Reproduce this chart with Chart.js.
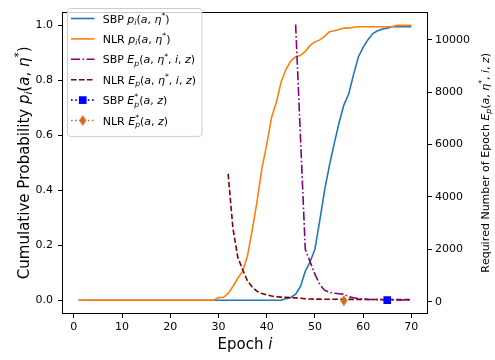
<!DOCTYPE html>
<html>
<head>
<meta charset="utf-8">
<script src="https://cdn.jsdelivr.net/npm/chart.js@4.4.1/dist/chart.umd.min.js"></script>
<style>
  html, body { margin: 0; padding: 0; background: #fff; }
  canvas { display: block; }
</style>
</head>
<body>
<canvas id="chart" width="495" height="360"></canvas>
<script>
/* globals Chart:false */
(() => {
  'use strict';

  // Epochs on the x axis
  const epochs = [
    1, 2, 3, 4, 5, 6, 7, 8, 9, 10, 11, 12, 13, 14, 15, 16, 17, 18, 19, 20,
    21, 22, 23, 24, 25, 26, 27, 28, 29, 30, 31, 32, 33, 34, 35, 36, 37, 38, 39, 40,
    41, 42, 43, 44, 45, 46, 47, 48, 49, 50, 51, 52, 53, 54, 55, 56, 57, 58, 59, 60,
    61, 62, 63, 64, 65, 66, 67, 68, 69, 70
  ];

  // Cumulative probability p_i(a, eta*) per epoch (left axis)
  const sbpProb = [
    0, 0, 0, 0, 0, 0, 0, 0, 0, 0,
    0, 0, 0, 0, 0, 0, 0, 0, 0, 0,
    0, 0, 0, 0, 0, 0, 0, 0, 0, 0,
    0, 0, 0, 0, 0, 0, 0, 0, 0, 0,
    0, 0, 0, 0.006, 0.01, 0.022, 0.05, 0.105, 0.14, 0.185,
    0.29, 0.4, 0.49, 0.57, 0.645, 0.71, 0.75, 0.82, 0.885, 0.92,
    0.948, 0.97, 0.98, 0.987, 0.99, 0.995, 0.995, 0.995, 0.995, 0.995
  ];
  const nlrProb = [
    0, 0, 0, 0, 0, 0, 0, 0, 0, 0,
    0, 0, 0, 0, 0, 0, 0, 0, 0, 0,
    0, 0, 0, 0, 0, 0, 0, 0, 0, 0.01,
    0.01, 0.025, 0.05, 0.08, 0.105, 0.16, 0.255, 0.36, 0.48, 0.565,
    0.665, 0.72, 0.795, 0.84, 0.87, 0.886, 0.89, 0.905, 0.927, 0.94,
    0.947, 0.96, 0.977, 0.98, 0.985, 0.99, 0.99, 0.993, 0.995, 0.995,
    0.995, 0.995, 0.995, 0.995, 0.995, 0.995, 1.0, 1.0, 1.0, 1.0
  ];

  // Required number of epochs E_p(a, eta*, i, z) (right axis)
  const sbpReqStart = 46;
  const sbpReq = [
    10580, 6300, 2000, 1520, 1050, 660, 440, 360, 320, 305,
    285, 190, 150, 120, 100, 90, 85, 80, 75, 70,
    68, 65, 62, 60, 58
  ];
  const nlrReqStart = 32;
  const nlrReq = [
    4880, 2800, 1700, 1230, 800, 560, 395, 310, 260, 220,
    190, 175, 165, 155, 145, 130, 110, 100, 98, 96,
    95, 94, 93, 92, 91, 90, 89, 88, 87, 86,
    85, 84, 83, 82, 81, 80, 80, 80, 80
  ];

  // Optimum E*_p(a, z): [epoch, required epochs]
  const sbpBest = [65, 60];
  const nlrBest = [56, 40];

  // Tick labels
  const xTicks = [0, 10, 20, 30, 40, 50, 60, 70];
  const probTicks = [0, 0.2, 0.4, 0.6, 0.8, 1.0];
  const reqTicks = [0, 2000, 4000, 6000, 8000, 10000];

  const FONT = '"DejaVu Sans", "Liberation Sans", sans-serif';

  // ---- small mathtext-like renderer: $...$ = math, _x sub, ^x sup ----
  function parseMath(str) {
    const parts = [];
    let math = false;
    for (let k = 0; k < str.length; k++) {
      let c = str[k];
      if (c === '$') { math = !math; continue; }
      let shift = 0;
      if (math && (c === '_' || c === '^')) {
        shift = c === '_' ? -1 : 1;
        c = str[++k];
      }
      parts.push({ text: c, italic: math && /[A-Za-zη]/.test(c), shift });
    }
    return parts;
  }

  function layoutRich(ctx, str, size) {
    const parts = parseMath(str);
    let x = 0;
    let prev = null;
    parts.forEach(p => {
      p.size = p.shift ? size * 0.7 : size;
      p.font = (p.italic ? 'italic ' : '') + p.size + 'px ' + FONT;
      ctx.font = p.font;
      p.w = ctx.measureText(p.text).width;
      if (p.shift && prev && prev.shift && prev.shift !== p.shift) {
        // stacked sub/superscript
        p.x = prev.x;
        x = prev.x + Math.max(prev.w, p.w);
      } else {
        p.x = x;
        x += p.w;
      }
      p.dy = p.shift < 0 ? size * 0.22 : (p.shift > 0 ? -size * 0.42 : 0);
      prev = p;
    });
    return { parts, width: x };
  }

  function drawRich(ctx, str, size, x, y, align, angle) {
    const { parts, width } = layoutRich(ctx, str, size);
    ctx.save();
    ctx.translate(x, y);
    if (angle) ctx.rotate(angle);
    const x0 = align === 'center' ? -width / 2 : 0;
    ctx.fillStyle = '#000';
    ctx.textAlign = 'left';
    ctx.textBaseline = 'alphabetic';
    parts.forEach(p => {
      ctx.font = p.font;
      ctx.fillText(p.text, x0 + p.x, p.dy);
    });
    ctx.restore();
    return width;
  }

  // thin diamond marker like matplotlib 'd'
  const nlrBestColor = '#d2691e';
  const diamond = document.createElement('canvas');
  diamond.width = 8;
  diamond.height = 12;
  const dctx = diamond.getContext('2d');
  dctx.fillStyle = nlrBestColor;
  dctx.beginPath();
  dctx.moveTo(4, 0.5);
  dctx.lineTo(7.6, 6);
  dctx.lineTo(4, 11.5);
  dctx.lineTo(0.4, 6);
  dctx.closePath();
  dctx.fill();

  const toPoints = (start, values) => values.map((v, i) => ({ x: start + i, y: v }));

  const datasets = [
    {
      label: 'SBP $p_i(a, η^*)$',
      data: epochs.map((e, i) => ({ x: e, y: sbpProb[i] })),
      yAxisID: 'y',
      borderColor: '#1f77b4',
      borderWidth: 1.6,
      pointRadius: 0,
      order: 3
    },
    {
      label: 'NLR $p_i(a, η^*)$',
      data: epochs.map((e, i) => ({ x: e, y: nlrProb[i] })),
      yAxisID: 'y',
      borderColor: '#ff7f0e',
      borderWidth: 1.6,
      pointRadius: 0,
      order: 2
    },
    {
      label: 'SBP $E_p(a, η^*, i, z)$',
      data: toPoints(sbpReqStart, sbpReq),
      yAxisID: 'y2',
      borderColor: '#800080',
      borderWidth: 1.6,
      borderDash: [9, 2.5, 1.6, 2.5],
      pointRadius: 0,
      order: 1
    },
    {
      label: 'NLR $E_p(a, η^*, i, z)$',
      data: toPoints(nlrReqStart, nlrReq),
      yAxisID: 'y2',
      borderColor: '#800000',
      borderWidth: 1.6,
      borderDash: [5.5, 2.5],
      pointRadius: 0,
      order: 1
    },
    {
      label: 'SBP $E^*_p(a, z)$',
      data: [{ x: sbpBest[0], y: sbpBest[1] }],
      yAxisID: 'y2',
      borderColor: '#0000ff',
      backgroundColor: '#0000ff',
      borderWidth: 1.6,
      borderDash: [1.6, 2.6],
      pointStyle: 'rect',
      pointRadius: 5.4,
      pointBorderWidth: 0,
      order: 0
    },
    {
      label: 'NLR $E^*_p(a, z)$',
      data: [{ x: nlrBest[0], y: nlrBest[1] }],
      yAxisID: 'y2',
      borderColor: nlrBestColor,
      backgroundColor: nlrBestColor,
      borderWidth: 1.6,
      borderDash: [1.6, 2.6],
      pointStyle: diamond,
      pointRadius: 6,
      order: 0
    }
  ];

  // frame, axis labels and legend
  const decorations = {
    id: 'decorations',
    afterDraw(chart) {
      const ctx = chart.ctx;
      const a = chart.chartArea;
      ctx.save();
      ctx.strokeStyle = '#000';
      ctx.lineWidth = 1;
      ctx.strokeRect(Math.round(a.left) + 0.5, Math.round(a.top) + 0.5,
        Math.round(a.right - a.left) - 1, Math.round(a.bottom - a.top) - 1);
      ctx.restore();

      const midY = (a.top + a.bottom) / 2;
      drawRich(ctx, 'Epoch $i$', 15, (a.left + a.right) / 2, 349, 'center');
      drawRich(ctx, 'Cumulative Probability $p_i(a, η^*)$', 15, 28.5, midY, 'center', -Math.PI / 2);
      drawRich(ctx, 'Required Number of Epoch $E_p(a, η^*, i, z)$', 11, 488.5, midY, 'center', -Math.PI / 2);

      // legend
      const lx = 67.5, ly = 8.5, rowH = 20.4, fs = 11;
      const textX = 102.7;
      const items = chart.data.datasets;
      const maxW = Math.max(...items.map(d => layoutRich(ctx, d.label, fs).width));
      const boxW = textX + maxW + 6 - lx;
      const boxH = rowH * items.length + 5.5;
      ctx.save();
      ctx.fillStyle = 'rgba(255,255,255,0.8)';
      ctx.strokeStyle = '#cccccc';
      ctx.lineWidth = 1;
      ctx.beginPath();
      ctx.roundRect(lx, ly, boxW, boxH, 3);
      ctx.fill();
      ctx.stroke();
      items.forEach((d, i) => {
        const cy = ly + 10 + rowH * i;
        ctx.save();
        ctx.strokeStyle = d.borderColor;
        ctx.lineWidth = d.borderWidth;
        ctx.setLineDash(d.borderDash || []);
        ctx.beginPath();
        ctx.moveTo(71, cy);
        ctx.lineTo(94.5, cy);
        ctx.stroke();
        ctx.restore();
        if (d.pointStyle === 'rect') {
          ctx.fillStyle = d.backgroundColor;
          ctx.fillRect(82.75 - 3.85, cy - 3.85, 7.7, 7.7);
        } else if (d.pointStyle === diamond) {
          ctx.drawImage(diamond, 82.75 - 4, cy - 6);
        }
        drawRich(ctx, d.label, fs, textX, cy + 4, 'left');
      });
      ctx.restore();
    }
  };

  const tickFont = { family: FONT, size: 11 };
  const setTicks = values => scale => { scale.ticks = values.map(v => ({ value: v })); };

  // eslint-disable-next-line no-unused-vars
  const myChart = new Chart(document.getElementById('chart'), {
    type: 'line',
    data: { datasets },
    options: {
      responsive: false,
      animation: false,
      events: [],
      layout: { padding: { top: 2 } },
      plugins: {
        legend: { display: false },
        tooltip: { enabled: false }
      },
      scales: {
        x: {
          type: 'linear',
          position: 'bottom',
          min: -2.45,
          max: 73.45,
          afterBuildTicks: setTicks(xTicks),
          afterFit: s => { s.height = 46; },
          grid: { drawOnChartArea: false, tickLength: 4, color: '#000', tickColor: '#000' },
          border: { display: false },
          ticks: { font: tickFont, color: '#000', padding: 3, maxRotation: 0, callback: v => String(v) }
        },
        y: {
          type: 'linear',
          position: 'left',
          min: -0.05,
          max: 1.05,
          afterBuildTicks: setTicks(probTicks),
          afterFit: s => { s.width = 62; },
          grid: { drawOnChartArea: false, tickLength: 4, color: '#000', tickColor: '#000' },
          border: { display: false },
          ticks: { font: tickFont, color: '#000', padding: 5, callback: v => v.toFixed(1) }
        },
        y2: {
          type: 'linear',
          position: 'right',
          min: -470,
          max: 11075,
          afterBuildTicks: setTicks(reqTicks),
          afterFit: s => { s.width = 67; },
          grid: { drawOnChartArea: false, tickLength: 4, color: '#000', tickColor: '#000' },
          border: { display: false },
          ticks: { font: tickFont, color: '#000', padding: 3, callback: v => String(v) }
        }
      }
    },
    plugins: [decorations]
  });
})();
</script>
</body>
</html>
